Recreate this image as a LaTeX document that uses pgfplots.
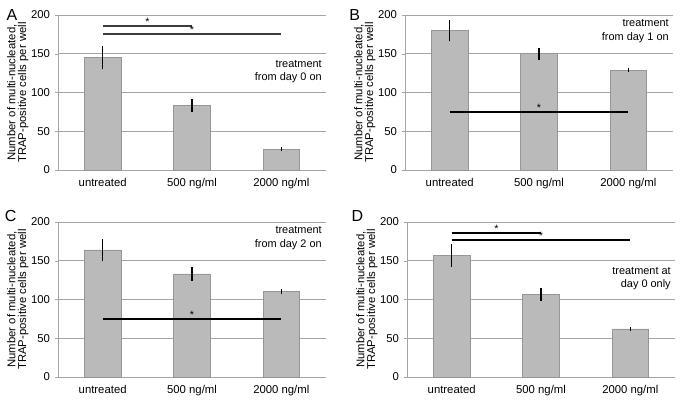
\documentclass[border=0pt]{standalone}
\usepackage{pgfplots}
\pgfplotsset{compat=1.18}
\usepackage{fontspec}
\setmainfont{Liberation Sans}
\definecolor{barfill}{RGB}{186,186,186}
\definecolor{baredge}{RGB}{150,150,150}
\definecolor{gridgray}{RGB}{165,165,165}
\definecolor{siggray}{RGB}{60,60,60}

\pgfplotsset{
  panel/.style={
    scale only axis, width=201pt, height=116.25pt,
    anchor=south west,
    xmin=-0.5, xmax=2.5, ymin=0, ymax=200,
    ytick={0,50,100,150,200},
    xtick={0,1,2},
    xticklabels={untreated,500 ng/ml,2000 ng/ml},
    x tick style={draw=none},
    extra x ticks={0.5,1.5,2.5},
    extra x tick labels={},
    extra x tick style={major tick length=2pt, tick style={draw=gridgray}, tick align=outside, grid=none},
    y tick style={draw=gridgray}, tick align=outside, major tick length=2.5pt,
    ymajorgrids, grid style={gridgray, line width=0.6pt},
    axis lines*=left, axis line style={gridgray, line width=0.6pt},
    tick label style={font=\fontsize{8.5}{10}\selectfont},
    /pgf/number format/assume math mode=true,
    ylabel={Number of multi-nucleated,\\TRAP-positive cells per well},
    ylabel style={align=center, font=\fontsize{8.5}{8}\selectfont,
      at={(axis description cs:-0.15,0.5)}, anchor=center},
    ybar, bar width=0.41,
    clip=false,
  },
  barstyle/.style={
    fill=barfill, draw=baredge, line width=0.6pt,
    error bars/.cd, y dir=both, y explicit,
    error bar style={black, line width=1pt}, error mark=none,
  },
}
\tikzset{
  sig/.style={line width=1.5pt},
  star/.style={font=\fontsize{8}{9}\selectfont, above, inner sep=0.3pt},
  note/.style={anchor=north east, align=right, font=\fontsize{8.2}{10}\selectfont, inner sep=0pt},
}

\begin{document}
\begin{tikzpicture}
\useasboundingbox (0,0) rectangle (512.25pt,300pt);

% A
\begin{axis}[panel, at={(43.5pt,172.5pt)}]
\addplot[barstyle] coordinates {(0,145) +- (0,15) (1,83) +- (0,8.5) (2,27) +- (0,3)};
\draw[siggray, sig] (axis cs:0,186) -- (axis cs:1,186);
\draw[siggray, sig] (axis cs:0,175.5) -- (axis cs:2,175.5);
\node[star] at (axis cs:0.5,186) {*};
\node[star] at (axis cs:1,175.5) {*};
\node[note] at (rel axis cs:0.985,0.71) {treatment\\from day 0 on};
\end{axis}

% B
\begin{axis}[panel, at={(303.75pt,172.5pt)}]
\addplot[barstyle] coordinates {(0,180) +- (0,14) (1,150) +- (0,8) (2,129) +- (0,3)};
\draw[black, sig] (axis cs:0,75) -- (axis cs:2,75);
\node[star] at (axis cs:1,75) {*};
\node[note] at (rel axis cs:0.985,0.97) {treatment\\from day 1 on};
\end{axis}

% C
\begin{axis}[panel, at={(43.5pt,17.25pt)}]
\addplot[barstyle] coordinates {(0,164) +- (0,14) (1,133) +- (0,9) (2,110) +- (0,3)};
\draw[black, sig] (axis cs:0,75) -- (axis cs:2,75);
\node[star] at (axis cs:1,75) {*};
\node[note] at (rel axis cs:0.985,0.97) {treatment\\from day 2 on};
\end{axis}

% D
\begin{axis}[panel, at={(305.25pt,17.25pt)}]
\addplot[barstyle] coordinates {(0,157) +- (0,14.5) (1,106) +- (0,8.5) (2,62) +- (0,3)};
\draw[black, sig] (axis cs:0,186) -- (axis cs:1,186);
\draw[black, sig] (axis cs:0,177) -- (axis cs:2,177);
\node[star] at (axis cs:0.5,186) {*};
\node[star] at (axis cs:1,177) {*};
\node[note] at (rel axis cs:0.985,0.71) {treatment at\\day 0 only};
\end{axis}

% panel letters
\node[font=\fontsize{12}{12}\selectfont] at (9pt,289pt) {A};
\node[font=\fontsize{12}{12}\selectfont] at (266pt,289pt) {B};
\node[font=\fontsize{12}{12}\selectfont] at (8pt,138pt) {C};
\node[font=\fontsize{12}{12}\selectfont] at (268pt,138pt) {D};
\end{tikzpicture}
\end{document}
